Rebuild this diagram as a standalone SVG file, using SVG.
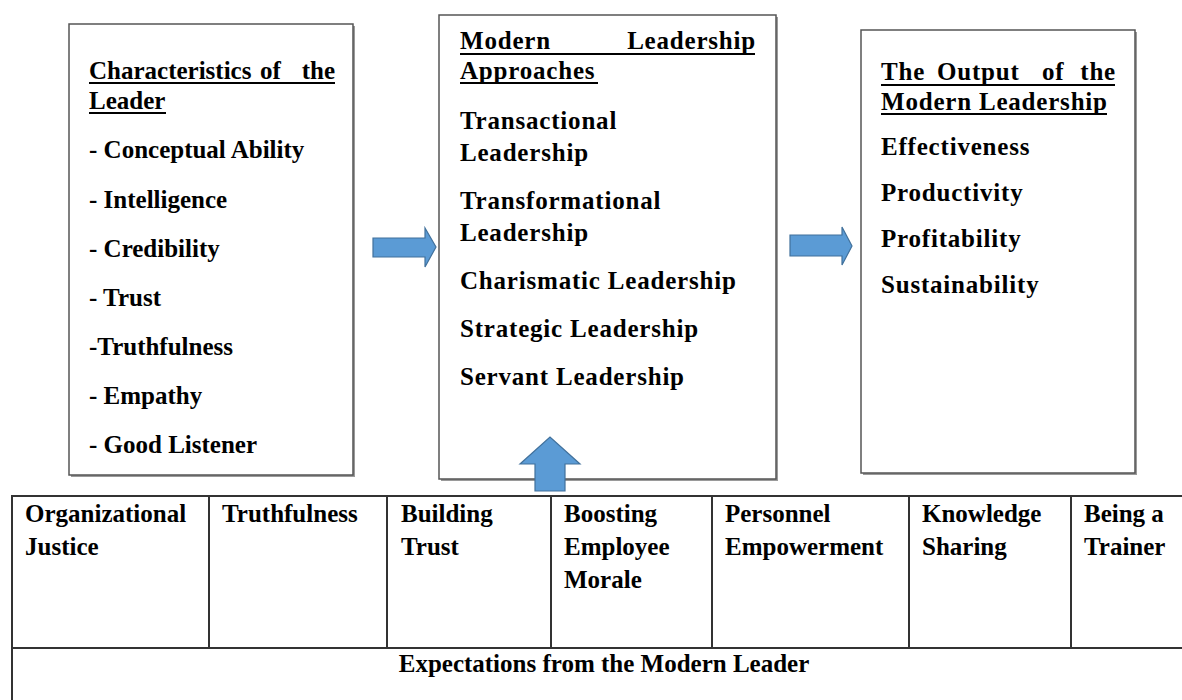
<svg xmlns="http://www.w3.org/2000/svg" width="1182" height="700" viewBox="0 0 1182 700">
  <style>
    text { font-family: "Liberation Serif", "Times New Roman", serif; font-weight: bold; font-size: 25px; fill: #000; }
    .sp { letter-spacing: 0.8px; }
    .end { text-anchor: end; }
    .box { fill: #fff; stroke: #555; stroke-width: 1.5; }
    .shadow { fill: #9a9a9a; }
    .ul { stroke: #000; stroke-width: 2; }
    .arrow { fill: #5b9bd5; stroke: #41719c; stroke-width: 1.2; stroke-linejoin: miter; }
    .grid { stroke: #333; stroke-width: 2; fill: none; }
    .mid { text-anchor: middle; }
  </style>
  <rect width="1182" height="700" fill="#fff"/>

  <!-- Leader characteristics -->
  <g id="characteristics">
    <rect class="shadow" x="71" y="26" width="284" height="451"/>
    <rect class="box" x="69" y="24" width="284" height="451"/>
    <text x="89" y="79">Characteristics</text>
    <text x="260" y="79">of</text>
    <text class="end" x="335" y="79">the</text>
    <line class="ul" x1="89" y1="83" x2="335" y2="83"/>
    <text x="89" y="109">Leader</text>
    <line class="ul" x1="89" y1="113" x2="166" y2="113"/>
    <text x="89" y="158">- Conceptual Ability</text>
    <text x="89" y="208">- Intelligence</text>
    <text x="89" y="257">- Credibility</text>
    <text x="89" y="306">- Trust</text>
    <text x="89" y="355">-Truthfulness</text>
    <text x="89" y="404">- Empathy</text>
    <text x="89" y="453">- Good Listener</text>
  </g>

  <!-- Leadership approaches -->
  <g id="approaches">
    <rect class="shadow" x="441" y="17" width="337" height="464"/>
    <rect class="box" x="439" y="15" width="337" height="464"/>
    <text class="sp" x="460" y="49">Modern</text>
    <text class="sp end" x="756" y="49">Leadership</text>
    <line class="ul" x1="460" y1="54" x2="755" y2="54"/>
    <text class="sp" x="460" y="79">Approaches</text>
    <line class="ul" x1="460" y1="83" x2="598" y2="83"/>
    <text class="sp" x="460" y="129">Transactional</text>
    <text class="sp" x="460" y="161">Leadership</text>
    <text class="sp" x="460" y="209">Transformational</text>
    <text class="sp" x="460" y="241">Leadership</text>
    <text class="sp" x="460" y="289">Charismatic Leadership</text>
    <text class="sp" x="460" y="337">Strategic Leadership</text>
    <text class="sp" x="460" y="385">Servant Leadership</text>
  </g>

  <!-- Outputs -->
  <g id="output">
    <rect class="shadow" x="863" y="32" width="274" height="443"/>
    <rect class="box" x="861" y="30" width="274" height="443"/>
    <text class="sp" x="881" y="80">The</text>
    <text class="sp" x="937" y="80">Output</text>
    <text class="sp" x="1042" y="80">of</text>
    <text class="sp end" x="1116" y="80">the</text>
    <line class="ul" x1="881" y1="85" x2="1115" y2="85"/>
    <text class="sp" x="881" y="110">Modern Leadership</text>
    <line class="ul" x1="881" y1="114" x2="1107" y2="114"/>
    <text class="sp" x="881" y="155">Effectiveness</text>
    <text class="sp" x="881" y="201">Productivity</text>
    <text class="sp" x="881" y="247">Profitability</text>
    <text class="sp" x="881" y="293">Sustainability</text>
  </g>

  <!-- Expectations table -->
  <g id="expectations">
    <path class="grid" d="M1182 496 H12 V700 M12 648 H1182 M209 496 V648 M387 496 V648 M551 496 V648 M712 496 V648 M909 496 V648 M1071 496 V648"/>
    <text x="25" y="522">Organizational</text>
    <text x="25" y="555">Justice</text>
    <text x="222" y="522">Truthfulness</text>
    <text x="401" y="522">Building</text>
    <text x="401" y="555">Trust</text>
    <text x="564" y="522">Boosting</text>
    <text x="564" y="555">Employee</text>
    <text x="564" y="588">Morale</text>
    <text x="725" y="522">Personnel</text>
    <text x="725" y="555">Empowerment</text>
    <text x="922" y="522">Knowledge</text>
    <text x="922" y="555">Sharing</text>
    <text x="1084" y="522">Being a</text>
    <text x="1084" y="555">Trainer</text>
    <text class="mid" x="604" y="672">Expectations from the Modern Leader</text>
  </g>

  <!-- Block arrows -->
  <g id="connectors">
    <polygon class="arrow" points="373,238 425,238 425,228 436,247 425,267 425,257 373,257"/>
    <polygon class="arrow" points="790,235 842,235 842,227 852,246 842,265 842,256 790,256"/>
    <polygon class="arrow" points="535,491 535,464 520,464 550,437 580,464 565,464 565,491"/>
  </g>
</svg>
